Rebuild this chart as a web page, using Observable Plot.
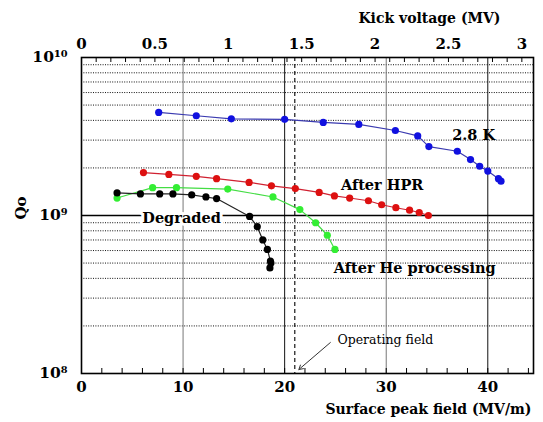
<!DOCTYPE html>
<html>
<head>
<meta charset="utf-8">
<script src="https://cdn.jsdelivr.net/npm/d3@7"></script>
<script src="https://cdn.jsdelivr.net/npm/@observablehq/plot@0.6"></script>
<style>
  body { margin: 0; background: white; }
  #chart svg { display: block; }
</style>
</head>
<body>
<div id="chart"></div>
<script>
// Surface peak field (MV/m) and Qo for each measurement series
const blueE = [7.6, 11.3, 14.75, 20.0, 23.8, 27.3, 30.9, 33.1, 34.2, 37.0, 38.3, 39.2, 40.0, 41.05, 41.3];
const blueQ = [4.49e9, 4.28e9, 4.09e9, 4.06e9, 3.88e9, 3.77e9, 3.45e9, 3.19e9, 2.73e9, 2.55e9, 2.26e9, 2.05e9, 1.91e9, 1.71e9, 1.65e9];
const redE = [6.1, 8.6, 11.3, 13.3, 16.5, 18.7, 21.05, 23.4, 24.9, 26.4, 28.25, 29.55, 30.95, 32.3, 33.25, 34.15];
const redQ = [1.87e9, 1.82e9, 1.77e9, 1.71e9, 1.62e9, 1.54e9, 1.48e9, 1.40e9, 1.33e9, 1.29e9, 1.24e9, 1.17e9, 1.12e9, 1.08e9, 1.045e9, 1.0e9];
const greenE = [3.5, 7.0, 9.35, 14.4, 18.85, 21.5, 23.05, 24.2, 24.95];
const greenQ = [1.29e9, 1.50e9, 1.50e9, 1.47e9, 1.31e9, 1.09e9, 0.90e9, 0.75e9, 0.61e9];
const blackE = [3.5, 5.8, 7.7, 9.0, 10.85, 12.25, 13.3, 16.55, 17.3, 17.85, 18.3, 18.6, 18.65, 18.55];
const blackQ = [1.39e9, 1.37e9, 1.37e9, 1.37e9, 1.35e9, 1.31e9, 1.28e9, 0.986e9, 0.85e9, 0.70e9, 0.61e9, 0.515e9, 0.50e9, 0.466e9];

const seriesNames = ["2.8 K", "After HPR", "After He processing", "Degraded"];
const labelE = [38.6, 29.6, 32.8, 9.85];
const labelQ = [3.2e9, 1.55e9, 4.62e8, 9.57e8];

// axes
const xTicks = [0, 10, 20, 30, 40];
const xMinor = d3.range(0, 45, 2);
const yTicks = [1e8, 1e9, 1e10];
const yTickLabels = ["10⁸", "10⁹", "10¹⁰"];
const yMinor = [2e8,3e8,4e8,5e8,6e8,7e8,8e8,9e8,2e9,3e9,4e9,5e9,6e9,7e9,8e9,9e9];
const kickTicks = [0, 0.5, 1, 1.5, 2, 2.5, 3];
const kickMinor = d3.range(0, 31).map(i => i / 10);
const kickPerField = 0.0692; // MV kick per MV/m surface field
const operatingField = 21.0;
const annotE = [25.2, 24.5, 21.4];
const annotQ = [1.62e8, 1.57e8, 1.06e8];

const mk = (E, Q) => E.map((e, i) => ({E: e, Q: Q[i]}));
const blue = mk(blueE, blueQ), red = mk(redE, redQ), green = mk(greenE, greenQ), black = mk(blackE, blackQ);
const labels = seriesNames.map((n, i) => ({n, E: labelE[i], Q: labelQ[i]}));

const serif = "DejaVu Serif";
const H = 422, mT = 57, mB = 49;
const ph = H - mT - mB;

const chart = Plot.plot({
  width: 543, height: H,
  marginLeft: 81, marginRight: 10, marginTop: mT, marginBottom: mB,
  x: {domain: [0, 44.5]},
  y: {type: "log", domain: [1e8, 1e10]},
  style: {fontFamily: serif, background: "white", color: "black", overflow: "visible"},
  marks: [
    Plot.ruleY(yMinor, {stroke: "#111", strokeDasharray: "1,1.4", strokeWidth: 1}),
    Plot.ruleX(xTicks.slice(1), {stroke: (d) => (d % 20 === 0 ? "#111" : "#777"), strokeWidth: 1}),
    Plot.ruleY([1e9], {stroke: "black", strokeWidth: 1.5}),
    Plot.ruleX([operatingField], {stroke: "black", strokeDasharray: "4,3", strokeWidth: 1.1}),
    // minor ticks bottom & top
    Plot.tickX(xMinor, {x: d => d, insetTop: ph - 5, stroke: "black"}),
    Plot.tickX(kickMinor, {x: d => d / kickPerField, insetBottom: ph - 5, stroke: "black"}),
    // series
    Plot.line(blue, {x: "E", y: "Q", stroke: "#3a3ab0", strokeWidth: 1.2}),
    Plot.dot(blue, {x: "E", y: "Q", r: 3.6, fill: "#1010e0"}),
    Plot.line(red, {x: "E", y: "Q", stroke: "#d02030", strokeWidth: 1.2}),
    Plot.dot(red, {x: "E", y: "Q", r: 3.6, fill: "#dd1010"}),
    Plot.line(green, {x: "E", y: "Q", stroke: "#44dd44", strokeWidth: 1.2}),
    Plot.dot(green, {x: "E", y: "Q", r: 3.6, fill: "#33ee33"}),
    Plot.line(black, {x: "E", y: "Q", stroke: "#222", strokeWidth: 1.2}),
    Plot.dot(black, {x: "E", y: "Q", r: 3.6, fill: "black"}),
    // series labels
    Plot.text(labels, {x: "E", y: "Q", text: "n", fontSize: 14.5, fontWeight: "bold", fill: "black",
      stroke: d => d.n === "Degraded" ? "white" : "none", strokeWidth: 6, paintOrder: "stroke"}),
    // operating field annotation
    Plot.text(["Operating field"], {x: annotE[0], y: annotQ[0], text: d => d, textAnchor: "start", fontSize: 12.5, fill: "black"}),
    Plot.arrow([0], {x1: annotE[1], y1: annotQ[1], x2: annotE[2], y2: annotQ[2], stroke: "#333", strokeWidth: 1, headLength: 7}),
    Plot.frame({stroke: "black", strokeWidth: 1.6}),
    // axes
    Plot.axisX(xTicks, {anchor: "bottom", tickSize: 0, tickPadding: 8, fontSize: 15, fontWeight: "bold", label: null}),
    Plot.axisY(yTicks, {anchor: "left", tickSize: 0, tickPadding: 14, fontSize: 15.5, fontWeight: "bold", label: null,
      tickFormat: d => yTickLabels[yTicks.indexOf(d)]}),
    Plot.text(kickTicks, {x: d => d / kickPerField, text: d => String(d), frameAnchor: "top", dy: -19, fontSize: 15, fontWeight: "bold"}),
    Plot.text(["Kick voltage (MV)"], {frameAnchor: "top-right", text: d => d, textAnchor: "end", dx: -33, dy: -44, fontSize: 14, fontWeight: "bold"}),
    Plot.text(["Surface peak field (MV/m)"], {frameAnchor: "bottom-right", text: d => d, textAnchor: "end", dx: -2, dy: 40, fontSize: 14, fontWeight: "bold"}),
    Plot.text(["Qo"], {frameAnchor: "left", text: d => d, rotate: -90, dx: -60, dy: 4, fontSize: 15, fontWeight: "bold"})
  ]
});
document.getElementById("chart").appendChild(chart);
</script>
</body>
</html>
